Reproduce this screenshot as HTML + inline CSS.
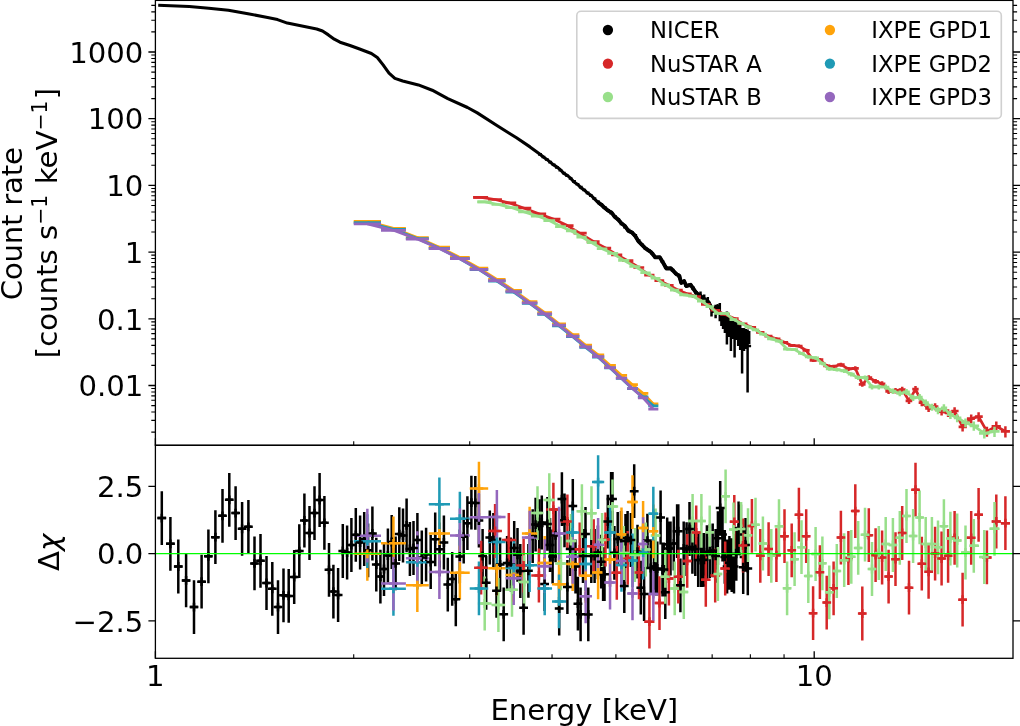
<!DOCTYPE html>
<html lang="en"><head><meta charset="utf-8"><title>Spectrum and residuals</title>
<style>html,body{margin:0;padding:0;background:#fff}svg{display:block;will-change:transform}</style></head>
<body>
<svg width="1020" height="726" viewBox="0 0 1020 726">
<rect width="1020" height="726" fill="#fff"/>
<g id="top-data">
<polyline fill="none" stroke="#000000" stroke-width="3.1" stroke-linejoin="round"  points="158.2,5.3 189.2,6.5 208.8,8.2 228.4,10.2 248,13.7 267.6,17.6 277.5,19.6 287.3,23.1 306.9,27.1 316.7,29 322.5,31 328.4,34.9 334.3,39.2 340,42.2 350,45.5 359.6,49 371.4,53.5 377.3,57.5 383.1,64.9 389,73.1 394.9,78.4 402.7,81 418.4,84.9 432.2,90.2 447.8,98.6 467.5,107.5 477.3,112.9 496.9,125.5 516.5,137.8 530,146.9 540,154.22 543.4,156.98 546.8,159.39 550.2,162.17 553.6,164.92 557,167.09 560.4,169.73 563.8,173.36 567.2,175.41 570.6,178.15 574,182.02 577.4,184.2 580.8,187.61 584.2,189.97 587.6,193.1 591,195.21 594.4,198.9 597.8,202.21 601.2,204.51 604.6,207.81 608,210.59 611.4,212.43 614.8,216.88 618.2,219.59 621.6,223.42 625,226.06 628.4,230.91 631.8,232.37 635.2,235.91 638.6,241.57 640,242.8 645.5,248.3 651,252.1 655.4,257.4 659.8,257.3 663.7,263.7 666.4,268.5 670.9,268.3 676.4,274.2 679.1,275.5 681.3,283 684.1,281 686.3,286 690.7,284.8 694,289.6 696.2,292.9 700.6,296.2 705,299.5 708.9,302.8 712.7,311 715.6,308 717.6,306.1 719.8,313.5 723.1,319.5 726.7,323.5 730.5,331 734.3,333.5 737.9,333 742.1,341 747.4,346"/>
<polyline fill="none" stroke="#000000" stroke-width="3.9" stroke-linejoin="round"  points="597.8,202.21 601.2,204.51 604.6,207.81 608,210.59 611.4,212.43 614.8,216.88 618.2,219.59 621.6,223.42 625,226.06 628.4,230.91 631.8,232.37 635.2,235.91 638.6,241.57 640,242.8 645.5,248.3 651,252.1 655.4,257.4 659.8,257.3 663.7,263.7 666.4,268.5 670.9,268.3 676.4,274.2 679.1,275.5 681.3,283 684.1,281 686.3,286 690.7,284.8 694,289.6 696.2,292.9 700.6,296.2 705,299.5 708.9,302.8 712.7,311 715.6,308 717.6,306.1 719.8,313.5"/>
<path fill="none" stroke="#000000" stroke-width="2.5"  d="M700.5 291.5L700.5 297M704.2 294.5L704.2 301.5M707.8 297L707.8 306M711.5 306.4L711.5 316.4M715.6 304.8L715.6 318.3M719.8 303.1L719.8 321.3M721.4 313L721.4 326M723.1 313L723.1 329M724.9 314.5L724.9 333M726.9 311.4L726.9 344.4M728.9 317L728.9 337M730.9 319.7L730.9 351.1M732.7 320L732.7 339M734.6 321.3L734.6 357.5M736.4 322L736.4 340M738.2 323.5L738.2 346M740.2 325L740.2 350M742.1 328L742.1 373.4M744 328L744 351M745.8 329L745.8 349M747.6 329.6L747.6 392.4M749.2 331L749.2 344"/>
<path fill="none" stroke="#000000" stroke-width="2.5"  d="M698.6 296.12L702.4 296.12M702.3 298.9L706.1 298.9M705.9 301.87L709.7 301.87M709.6 308.41L713.4 308.41M713.7 308L717.5 308M717.9 313.5L721.7 313.5M719.5 316.41L723.3 316.41M721.2 319.5L725 319.5M723 321.5L726.8 321.5M725 323.89L728.8 323.89M727 327.84L730.8 327.84M729 331.26L732.8 331.26M730.8 332.45L734.6 332.45M732.7 333.46L736.5 333.46M734.5 333.21L738.3 333.21M736.3 333.57L740.1 333.57M738.3 337.38L742.1 337.38M740.2 341L744 341M742.1 342.79L745.9 342.79M743.9 344.49L747.7 344.49M745.7 346L749.5 346M747.3 346L751.1 346"/>
<path fill="none" stroke="#000000" stroke-width="2.6"  d="M538.1 154.4L541.9 154.4M541.5 156.95L545.3 156.95M544.9 159.5L548.7 159.5M548.3 162.08L552.1 162.08M551.7 164.8L555.5 164.8M555.1 167.53L558.9 167.53M558.5 170.25L562.3 170.25M561.9 172.97L565.7 172.97M565.3 175.7L569.1 175.7M568.7 178.49L572.5 178.49M572.1 181.37L575.9 181.37M575.5 184.24L579.3 184.24M578.9 187.12L582.7 187.12M582.3 190L586.1 190M585.7 192.88L589.5 192.88M589.1 195.77L592.9 195.77M592.5 198.67L596.3 198.67M595.9 201.57L599.7 201.57M599.3 204.47L603.1 204.47M602.7 207.36L606.5 207.36M606.1 210.26L609.9 210.26M609.5 213.29L613.3 213.29M612.9 216.35L616.7 216.35M616.3 219.4L620.1 219.4M619.7 223.85L623.5 223.85M623.1 227.11L626.9 227.11M626.5 230.08L630.3 230.08M629.9 232.43L633.7 232.43M633.3 235.38L637.1 235.38M636.7 240.64L640.5 240.64M640.1 244.8L643.9 244.8M643.5 248.2L647.3 248.2M646.9 250.58L650.7 250.58M650.3 253.55L654.1 253.55M652.2 253.1L652.2 254M653.7 257.4L657.5 257.4M655.6 256.9L655.6 257.9M657.1 257.32L660.9 257.32M659 256.75L659 257.89M660.5 261.57L664.3 261.57M662.4 260.93L662.4 262.22M663.9 267.43L667.7 267.43M665.8 266.72L665.8 268.17M667.3 268.38L671.1 268.38M669.2 267.57L669.2 269.21M670.7 270.12L674.5 270.12M672.6 269.21L672.6 271.06M674.1 273.77L677.9 273.77M676 272.74L676 274.84M677.5 276.52L681.3 276.52M679.4 275.37L679.4 277.73M680.9 281.93L684.7 281.93M682.8 280.63L682.8 283.29M684.3 285.77L688.1 285.77M686.2 284.31L686.2 287.32M687.7 285.1L691.5 285.1M689.6 283.45L689.6 286.85M691.1 288.15L694.9 288.15M693 286.29L693 290.13M694.5 293.05L698.3 293.05M696.4 290.96L696.4 295.3M697.9 295.6L701.7 295.6M699.8 293.25L699.8 298.15"/>
<polyline fill="none" stroke="#d62728" stroke-width="2.75" stroke-linejoin="round"  points="473.2,197.41 481.1,197.41 495.1,199.5 508.8,202.81 523.6,208.01 538.9,213.84 553.4,219.09 567.4,225.57 579.7,233.16 593.7,241.59 605.5,248.04 616.8,254.78 627.7,260.72 639,267.51 649.4,275.05 659.5,280.64 668.9,285.33 678.3,290.22 687.2,293.81 696.2,296.51 705.8,304.34 715.2,310.27 725.2,314.41 734.3,318.51 743,323.81 751.9,327.28 760.3,332.44 768.6,336.2 776.4,338.9 784.5,342.3 791.7,345.4 798.9,346 806.2,350.4 813.1,360.3 819.9,359.7 826.7,365.8 833.6,366.5 840.9,364.6 848.4,368.9 855.3,368.3 862.3,384.4 868.8,377.6 875.6,381.3 882.1,383.8 888.6,391.3 895.5,390.6 902.2,389.6 909,400.8 915.5,389.1 921.8,402.7 928.6,408.4 935.1,406.5 941.6,411.6 948.1,412.9 954.6,411 962.6,426.9 971.2,418.6 978.6,416.7 986.9,431.4 996.3,426.3 1005.4,431.4"/>
<path fill="none" stroke="#d62728" stroke-width="2.7"  d="M473.2 197.41L488.1 197.41M488.1 199.5L501.95 199.5M501.95 202.81L516.2 202.81M516.2 208.01L531.25 208.01M531.25 213.84L546.15 213.84M546.15 219.09L560.4 219.09M560.4 225.57L573.55 225.57M573.55 233.16L586.7 233.16M586.7 241.59L599.6 241.59M599.6 248.04L611.15 248.04M611.15 254.78L622.25 254.78M622.25 260.72L633.35 260.72M633.35 267.51L644.2 267.51M644.2 275.05L654.45 275.05M654.45 280.64L664.2 280.64M664.2 285.33L673.6 285.33M673.6 290.22L682.75 290.22M682.75 293.81L691.7 293.81M691.7 296.51L701 296.51M701 304.34L710.5 304.34M710.5 310.27L720.2 310.27M720.2 314.41L729.75 314.41M729.75 318.51L738.65 318.51M738.65 323.81L747.45 323.81M747.45 327.28L756.1 327.28M756.1 332.44L764.45 332.44M764.45 336.2L772.5 336.2M772.5 338.9L780.45 338.9M780.45 342.3L788.1 342.3M788.1 345.4L795.3 345.4M795.3 346L802.55 346M802.55 350.4L809.65 350.4M809.65 360.3L816.5 360.3M816.5 359.7L823.3 359.7M823.3 365.8L830.15 365.8M830.15 366.5L837.25 366.5M837.25 364.6L844.65 364.6M844.65 368.9L851.85 368.9M851.85 368.3L858.8 368.3M858.8 384.4L865.55 384.4M865.55 377.6L872.2 377.6M872.2 381.3L878.85 381.3M878.85 383.8L885.35 383.8M885.35 391.3L892.05 391.3M892.05 390.6L898.85 390.6M898.85 389.6L905.6 389.6M905.6 400.8L912.25 400.8M912.25 389.1L918.65 389.1M918.65 402.7L925.2 402.7M925.2 408.4L931.85 408.4M931.85 406.5L938.35 406.5M938.35 411.6L944.85 411.6M944.85 412.9L951.35 412.9M951.35 411L958.6 411M958.6 426.9L966.9 426.9M966.9 418.6L974.9 418.6M974.9 416.7L982.75 416.7M982.75 431.4L991.6 431.4M991.6 426.3L1000.85 426.3M1000.85 431.4L1009.95 431.4"/>
<path fill="none" stroke="#d62728" stroke-width="2.5"  d="M715.2 309.38L715.2 311.19M725.2 313.46L725.2 315.39M734.3 317.51L734.3 319.55M743 322.75L743 324.9M751.9 326.17L751.9 328.44M760.3 331.27L760.3 333.67M768.6 334.96L768.6 337.49M776.4 337.6L776.4 340.26M784.5 340.94L784.5 343.73M791.7 343.98L791.7 346.9M798.9 344.51L798.9 347.57M806.2 348.85L806.2 352.04M813.1 358.68L813.1 362.02M819.9 358.01L819.9 361.49M826.7 364.04L826.7 367.67M833.6 364.67L833.6 368.46M840.9 362.68L840.9 366.65M848.4 366.89L848.4 371.06M855.3 366.21L855.3 370.55M862.3 382.22L862.3 386.76M868.8 375.33L868.8 380.06M875.6 378.94L875.6 383.87M882.1 381.34L882.1 386.49M888.6 388.75L888.6 394.1M895.5 387.94L895.5 393.53M902.2 386.83L902.2 392.66M909 397.91L909 404.01M915.5 386.1L915.5 392.45M921.8 399.59L921.8 406.19M928.6 405.16L928.6 412.05M935.1 403.13L935.1 410.31M941.6 408.1L941.6 415.58M948.1 409.26L948.1 417.06M954.6 407.22L954.6 415.34M962.6 422.94L962.6 431.49M971.2 414.44L971.2 423.46M978.6 412.36L978.6 421.81M986.9 426.84L986.9 436.81M996.3 421.49L996.3 432.08M1005.4 426.33L1005.4 437.55"/>
<polyline fill="none" stroke="#98df8a" stroke-width="2.75" stroke-linejoin="round"  points="477.4,201.9 484.7,201.9 498.4,204.48 512,207.72 524.3,211.97 537.5,216.08 549.3,220.53 560.9,226.53 571,230.79 581.9,237.05 591.5,242.56 602.1,248.73 612.5,253.34 623.8,260.35 634.9,266.48 645.8,272.76 655.6,278.23 665.3,284.8 674.7,290.22 683.8,294.93 692.6,296.08 701.4,301.07 709.7,306.72 717.9,313.28 725.6,313.25 733.5,319.56 741.1,323.29 748,326.88 755.5,329.83 762.9,334.11 771.3,338.91 779,341.1 787.1,349.1 794.6,349.6 801.5,353.5 808.3,356.9 815.6,357.9 822.4,363.5 829.3,368.9 836.8,369.6 844.2,370.8 851.3,374.2 858.2,377.7 865,377.6 872,386.9 878.8,386.9 885.7,387 892.9,391.2 899.8,393.3 906.5,391.9 913.1,397.8 919.6,397.1 925.7,402.7 931.9,407.1 938,410.3 943.9,407.8 950.4,414.7 957.2,417.8 965.5,422.6 973.8,425.8 984.3,433.3 994.5,431.4"/>
<path fill="none" stroke="#98df8a" stroke-width="2.7"  d="M477.4 201.9L491.55 201.9M491.55 204.48L505.2 204.48M505.2 207.72L518.15 207.72M518.15 211.97L530.9 211.97M530.9 216.08L543.4 216.08M543.4 220.53L555.1 220.53M555.1 226.53L565.95 226.53M565.95 230.79L576.45 230.79M576.45 237.05L586.7 237.05M586.7 242.56L596.8 242.56M596.8 248.73L607.3 248.73M607.3 253.34L618.15 253.34M618.15 260.35L629.35 260.35M629.35 266.48L640.35 266.48M640.35 272.76L650.7 272.76M650.7 278.23L660.45 278.23M660.45 284.8L670 284.8M670 290.22L679.25 290.22M679.25 294.93L688.2 294.93M688.2 296.08L697 296.08M697 301.07L705.55 301.07M705.55 306.72L713.8 306.72M713.8 313.28L721.75 313.28M721.75 313.25L729.55 313.25M729.55 319.56L737.3 319.56M737.3 323.29L744.55 323.29M744.55 326.88L751.75 326.88M751.75 329.83L759.2 329.83M759.2 334.11L767.1 334.11M767.1 338.91L775.15 338.91M775.15 341.1L783.05 341.1M783.05 349.1L790.85 349.1M790.85 349.6L798.05 349.6M798.05 353.5L804.9 353.5M804.9 356.9L811.95 356.9M811.95 357.9L819 357.9M819 363.5L825.85 363.5M825.85 368.9L833.05 368.9M833.05 369.6L840.5 369.6M840.5 370.8L847.75 370.8M847.75 374.2L854.75 374.2M854.75 377.7L861.6 377.7M861.6 377.6L868.5 377.6M868.5 386.9L875.4 386.9M875.4 386.9L882.25 386.9M882.25 387L889.3 387M889.3 391.2L896.35 391.2M896.35 393.3L903.15 393.3M903.15 391.9L909.8 391.9M909.8 397.8L916.35 397.8M916.35 397.1L922.65 397.1M922.65 402.7L928.8 402.7M928.8 407.1L934.95 407.1M934.95 410.3L940.95 410.3M940.95 407.8L947.15 407.8M947.15 414.7L953.8 414.7M953.8 417.8L961.35 417.8M961.35 422.6L969.65 422.6M969.65 425.8L979.05 425.8M979.05 433.3L989.4 433.3M989.4 431.4L999.6 431.4"/>
<path fill="none" stroke="#98df8a" stroke-width="2.5"  d="M709.7 305.86L709.7 307.6M717.9 312.37L717.9 314.21M725.6 312.31L725.6 314.24M733.5 318.56L733.5 320.59M741.1 322.25L741.1 324.37M748 325.79L748 328.01M755.5 328.69L755.5 331.02M762.9 332.92L762.9 335.35M771.3 337.65L771.3 340.22M779 339.78L779 342.48M787.1 347.72L787.1 350.55M794.6 348.15L794.6 351.12M801.5 351.99L801.5 355.09M808.3 355.33L808.3 358.56M815.6 356.26L815.6 359.64M822.4 361.79L822.4 365.32M829.3 367.11L829.3 370.81M836.8 367.73L836.8 371.6M844.2 368.84L844.2 372.9M851.3 372.16L851.3 376.4M858.2 375.57L858.2 380M865 375.38L865 380M872 384.59L872 389.41M878.8 384.49L878.8 389.53M885.7 384.49L885.7 389.75M892.9 388.58L892.9 394.08M899.8 390.57L899.8 396.32M906.5 389.06L906.5 395.05M913.1 394.84L913.1 401.09M919.6 394.03L919.6 400.54M925.7 399.51L925.7 406.28M931.9 403.79L931.9 410.83M938 406.87L938 414.19M943.9 404.25L943.9 411.84M950.4 411.01L950.4 418.92M957.2 413.96L957.2 422.22M965.5 418.57L965.5 427.28M973.8 421.57L973.8 430.75M984.3 428.81L984.3 438.62M994.5 426.64L994.5 437.1"/>
<polyline fill="none" stroke="#ffa30a" stroke-width="2.75" stroke-linejoin="round"  points="367.35,221.4 393.44,228.3 417.33,237.5 439.39,247.2 459.86,257.4 478.96,268.2 496.87,279.4 513.72,290.3 529.63,301.7 544.7,312.6 559.02,323.9 572.65,334.7 585.67,345.2 598.11,354.9 610.04,365.4 621.49,375.4 632.5,384.7 643.1,393.3 653.33,403.9"/>
<path fill="none" stroke="#ffa30a" stroke-width="2.7"  d="M353.72 221.4L380.99 221.4M380.99 228.3L405.88 228.3M405.88 237.5L428.78 237.5M428.78 247.2L449.99 247.2M449.99 257.4L469.73 257.4M469.73 268.2L488.19 268.2M488.19 279.4L505.54 279.4M505.54 290.3L521.89 290.3M521.89 301.7L537.36 301.7M537.36 312.6L552.04 312.6M552.04 323.9L566 323.9M566 334.7L579.31 334.7M579.31 345.2L592.02 345.2M592.02 354.9L604.2 354.9M604.2 365.4L615.88 365.4M615.88 375.4L627.1 375.4M627.1 384.7L637.9 384.7M637.9 393.3L648.31 393.3M648.31 403.9L658.35 403.9"/>
<polyline fill="none" stroke="#1f9ab5" stroke-width="2.75" stroke-linejoin="round"  points="367.35,222.6 393.44,229.4 417.33,238.5 439.39,248.3 459.86,258.7 478.96,269.7 496.87,281.1 513.72,292.1 529.63,303.5 544.7,314.4 559.02,325.8 572.65,336.7 585.67,347.4 598.11,357.2 610.04,368 621.49,378.5 632.5,388.7 643.1,396.9 653.33,405.8"/>
<path fill="none" stroke="#1f9ab5" stroke-width="2.7"  d="M353.72 222.6L380.99 222.6M380.99 229.4L405.88 229.4M405.88 238.5L428.78 238.5M428.78 248.3L449.99 248.3M449.99 258.7L469.73 258.7M469.73 269.7L488.19 269.7M488.19 281.1L505.54 281.1M505.54 292.1L521.89 292.1M521.89 303.5L537.36 303.5M537.36 314.4L552.04 314.4M552.04 325.8L566 325.8M566 336.7L579.31 336.7M579.31 347.4L592.02 347.4M592.02 357.2L604.2 357.2M604.2 368L615.88 368M615.88 378.5L627.1 378.5M627.1 388.7L637.9 388.7M637.9 396.9L648.31 396.9M648.31 405.8L658.35 405.8"/>
<polyline fill="none" stroke="#9467bd" stroke-width="2.75" stroke-linejoin="round"  points="367.35,223.8 393.44,230.3 417.33,239.1 439.39,248.6 459.86,258.7 478.96,269.4 496.87,280.6 513.72,291.5 529.63,302.9 544.7,313.8 559.02,325.2 572.65,336.1 585.67,346.8 598.11,356.7 610.04,367.6 621.49,378.2 632.5,388.5 643.1,397.9 653.33,409.2"/>
<path fill="none" stroke="#9467bd" stroke-width="2.7"  d="M353.72 223.8L380.99 223.8M380.99 230.3L405.88 230.3M405.88 239.1L428.78 239.1M428.78 248.6L449.99 248.6M449.99 258.7L469.73 258.7M469.73 269.4L488.19 269.4M488.19 280.6L505.54 280.6M505.54 291.5L521.89 291.5M521.89 302.9L537.36 302.9M537.36 313.8L552.04 313.8M552.04 325.2L566 325.2M566 336.1L579.31 336.1M579.31 346.8L592.02 346.8M592.02 356.7L604.2 356.7M604.2 367.6L615.88 367.6M615.88 378.2L627.1 378.2M627.1 388.5L637.9 388.5M637.9 397.9L648.31 397.9M648.31 409.2L658.35 409.2"/>
</g>
<g id="res-data">
<path fill="none" stroke="#000000" stroke-width="2.5"  d="M161.8 491.2L161.8 545M170.4 516.9L170.4 570.7M178.3 539.6L178.3 593.4M186.1 553.5L186.1 607.3M194 580.2L194 634M201.6 554.8L201.6 608.6M208.4 529.4L208.4 583.2M215.4 510.3L215.4 564.1M222.5 488.9L222.5 542.7M229.3 472.9L229.3 526.7M235.6 486.2L235.6 540M242.1 501.9L242.1 555.7M248.4 499.9L248.4 553.7M254.5 536.5L254.5 590.3M260.5 533.9L260.5 587.7M266.5 556.1L266.5 609.9M272.3 561.9L272.3 615.7M278 580.2L278 634M283.5 568.4L283.5 622.2M288.7 569L288.7 622.8M294.2 550.1L294.2 603.9M299.3 524.2L299.3 578M304.4 493.6L304.4 547.4M309.5 506.1L309.5 559.9M314.5 486.2L314.5 540M319.6 473.1L319.6 526.9M324.4 495.9L324.4 549.7M329 542.9L329 596.7M333.4 564.7L333.4 618.5M338.1 568.1L338.1 621.9M342.8 524.1L342.8 577.9M347.1 525.6L347.1 579.4M351.4 518.1L351.4 571.9M355.8 507.9L355.8 561.7M360.1 515.6L360.1 569.4M364.2 512.1L364.2 565.9M368.1 523.4L368.1 577.2M372.4 506.6L372.4 560.4M376.3 537.7L376.3 591.5M380.4 549.7L380.4 603.5M384 542.1L384 595.9M387.9 528.6L387.9 582.4M391.7 515.1L391.7 568.9M395.6 536.5L395.6 590.3M399.3 507.2L399.3 561M403 508.6L403 562.4M406.6 498.5L406.6 552.3M409.9 522.1L409.9 575.9M413.5 521.1L413.5 574.9M417.4 513L417.4 566.8M421.8 530.6L421.8 584.4M426.1 527.7L426.1 581.5M430.7 535.1L430.7 588.9M435.2 512.4L435.2 566.2M439.6 522.4L439.6 576.2M443.9 515.6L443.9 569.4M447.8 557.7L447.8 611.5M452.2 552L452.2 605.8M455.8 572.4L455.8 626.2M459.8 529.6L459.8 583.4M463.7 509.8L463.7 563.6M467.4 496.3L467.4 550.1M471.4 475.8L471.4 529.6M475.3 476L475.3 529.8M478.9 493.6L478.9 547.4M482.6 529.1L482.6 582.9M486.2 555.9L486.2 609.7M489.8 510.6L489.8 564.4M493.4 513.1L493.4 566.9M496.5 563.9L496.5 617.7M500.1 537.6L500.1 591.4M503.7 587.4L503.7 641.2M507.1 536.1L507.1 589.9M510.8 537.6L510.8 591.4M514.2 521.1L514.2 574.9M517.5 527.9L517.5 581.7M520.3 544.1L520.3 597.9M523.6 580.9L523.6 634.7M528.4 543.9L528.4 597.7M532.7 509.3L532.7 563.1M535.6 497.7L535.6 551.5M539.2 499.2L539.2 553M541.8 495.6L541.8 549.4M544.6 557.1L544.6 610.9M547.4 497L547.4 550.8M550 518.1L550 571.9M552.6 529.6L552.6 583.4M555.5 508.5L555.5 562.3M559.2 581.6L559.2 635.4M561.9 472.2L561.9 526M564.5 493.4L564.5 547.2M567.4 560.1L567.4 613.9M570.2 522.2L570.2 576M572.8 479.1L572.8 532.9M575.5 539.6L575.5 593.4M577.9 576.8L577.9 630.6M580.6 587.4L580.6 641.2M583 529.1L583 582.9M585.5 507L585.5 560.8M588.3 587.5L588.3 641.3M591.3 529.1L591.3 582.9M594.6 529.1L594.6 582.9M597.9 525.53L597.9 579.33M601.2 534.74L601.2 588.54M603.1 547.3L603.1 601.1M604.5 547.3L604.5 601.1M607.8 494.7L607.8 548.5M611.1 472L611.1 525.8M612.5 472L612.5 525.8M614.4 525.89L614.4 579.69M617.7 512.1L617.7 565.9M621 511.1L621 564.9M624.3 559.2L624.3 613M625.5 514.1L625.5 567.9M627.6 511.1L627.6 564.9M630.9 513.1L630.9 566.9M634.2 464.3L634.2 518.1M637.5 524.82L637.5 578.62M640.8 560.8L640.8 614.6M644.1 567.1L644.1 620.9M647.4 513.7L647.4 567.5M650.7 541.1L650.7 594.9M654 539.6L654 593.4M656 541.6L656 595.4M657.3 541.6L657.3 595.4M660.6 490.6L660.6 544.4M662.5 542.6L662.5 596.4M663.9 542.6L663.9 596.4M665.3 565.3L665.3 619.1M667.2 517.44L667.2 571.24M668.9 521.6L668.9 575.4M670.5 521.6L670.5 575.4M673.8 516.6L673.8 570.4M677.1 504.3L677.1 558.1M678.3 504.3L678.3 558.1M680.4 558.4L680.4 612.2M683.7 521.6L683.7 575.4M686.6 522.31L686.6 576.11M689.5 502.1L689.5 555.9M692.4 520.06L692.4 573.86M695.3 522.1L695.3 575.9M698.2 533.1L698.2 586.9M701.1 533.1L701.1 586.9M702.4 533.1L702.4 586.9M704 532.91L704 586.71M706.9 525.27L706.9 579.07M709.8 524.25L709.8 578.05M712.7 523.55L712.7 577.35M715.6 528.98L715.6 582.78M717.9 511.23L717.9 565.03M720.2 481.1L720.2 534.9M722.5 507.72L722.5 561.52M724.8 529.98L724.8 583.78M727.1 539.6L727.1 593.4M729.4 535.96L729.4 589.76M731.7 538.2L731.7 592M734 539.6L734 593.4M736.3 526.84L736.3 580.64M738.6 501.4L738.6 555.2M740.9 504.49L740.9 558.29M743.2 540.3L743.2 594.1M745.5 518L745.5 571.8M747.8 541.5L747.8 595.3M157.52 518.1L166.08 518.1M166.23 543.8L174.57 543.8M174.24 566.5L182.36 566.5M182.14 580.4L190.06 580.4M190.14 607.1L197.86 607.1M197.83 581.7L205.37 581.7M204.72 556.3L212.08 556.3M211.81 537.2L218.99 537.2M219 515.8L226 515.8M225.89 499.8L232.71 499.8M232.27 513.1L238.93 513.1M238.86 528.8L245.34 528.8M245.24 526.8L251.56 526.8M251.41 563.4L257.58 563.4M257.49 560.8L263.51 560.8M263.57 583L269.43 583M269.44 588.8L275.16 588.8M275.22 607.1L280.78 607.1M280.79 595.3L286.21 595.3M286.05 595.9L291.35 595.9M291.63 577L296.77 577M296.79 551.1L301.81 551.1M301.92 520.5L306.88 520.5M307.05 533L311.95 533M312.07 513.1L316.93 513.1M317.2 500L322 500M322.02 522.8L326.78 522.8M326.64 569.8L331.36 569.8M331.07 591.6L335.73 591.6M335.79 595L340.41 595M340.51 551L345.09 551M344.84 552.5L349.36 552.5M349.16 545L353.64 545M353.58 534.8L358.02 534.8M357.9 542.5L362.3 542.5M362.02 539L366.38 539M365.94 550.3L370.26 550.3M370.26 533.5L374.54 533.5M374.18 564.6L378.42 564.6M378.3 576.6L382.5 576.6M381.92 569L386.08 569M385.84 555.5L389.96 555.5M389.66 542L393.74 542M393.58 563.4L397.62 563.4M397.3 534.1L401.3 534.1M401.2 535.5L404.8 535.5M404.8 525.4L408.4 525.4M408.1 549L411.7 549M411.7 548L415.3 548M415.6 539.9L419.2 539.9M420 557.5L423.6 557.5M424.3 554.6L427.9 554.6M428.9 562L432.5 562M433.4 539.3L437 539.3M437.8 549.3L441.4 549.3M442.1 542.5L445.7 542.5M446 584.6L449.6 584.6M450.4 578.9L454 578.9M454 599.3L457.6 599.3M458 556.5L461.6 556.5M461.9 536.7L465.5 536.7M465.6 523.2L469.2 523.2M469.6 502.7L473.2 502.7M473.5 502.9L477.1 502.9M477.1 520.5L480.7 520.5M480.8 556L484.4 556M484.4 582.8L488 582.8M488 537.5L491.6 537.5M491.6 540L495.2 540M494.7 590.8L498.3 590.8M498.3 564.5L501.9 564.5M501.9 614.3L505.5 614.3M505.3 563L508.9 563M509 564.5L512.6 564.5M512.4 548L516 548M515.7 554.8L519.3 554.8M518.5 571L522.1 571M521.8 607.8L525.4 607.8M526.6 570.8L530.2 570.8M530.9 536.2L534.5 536.2M533.8 524.6L537.4 524.6M537.4 526.1L541 526.1M540 522.5L543.6 522.5M542.8 584L546.4 584M545.6 523.9L549.2 523.9M548.2 545L551.8 545M550.8 556.5L554.4 556.5M553.7 535.4L557.3 535.4M557.4 608.5L561 608.5M560.1 499.1L563.7 499.1M562.7 520.3L566.3 520.3M565.6 587L569.2 587M568.4 549.1L572 549.1M571 506L574.6 506M573.7 566.5L577.3 566.5M576.1 603.7L579.7 603.7M578.8 614.3L582.4 614.3M581.2 556L584.8 556M583.7 533.9L587.3 533.9M586.5 614.4L590.1 614.4M589.5 556L593.1 556M592.8 556L596.4 556M596.1 552.43L599.7 552.43M599.4 561.64L603 561.64M601.3 574.2L604.9 574.2M602.7 574.2L606.3 574.2M606 521.6L609.6 521.6M609.3 498.9L612.9 498.9M610.7 498.9L614.3 498.9M612.6 552.79L616.2 552.79M615.9 539L619.5 539M619.2 538L622.8 538M622.5 586.1L626.1 586.1M623.7 541L627.3 541M625.8 538L629.4 538M629.1 540L632.7 540M632.4 491.2L636 491.2M635.7 551.72L639.3 551.72M639 587.7L642.6 587.7M642.3 594L645.9 594M645.6 540.6L649.2 540.6M648.9 568L652.5 568M652.2 566.5L655.8 566.5M654.2 568.5L657.8 568.5M655.5 568.5L659.1 568.5M658.8 517.5L662.4 517.5M660.7 569.5L664.3 569.5M662.1 569.5L665.7 569.5M663.5 592.2L667.1 592.2M665.4 544.34L669 544.34M667.1 548.5L670.7 548.5M668.7 548.5L672.3 548.5M672 543.5L675.6 543.5M675.3 531.2L678.9 531.2M676.5 531.2L680.1 531.2M678.6 585.3L682.2 585.3M681.9 548.5L685.5 548.5M684.8 549.21L688.4 549.21M687.7 529L691.3 529M690.6 546.96L694.2 546.96M693.5 549L697.1 549M696.4 560L700 560M699.3 560L702.9 560M700.6 560L704.2 560M702.2 559.81L705.8 559.81M705.1 552.17L708.7 552.17M708 551.15L711.6 551.15M710.9 550.45L714.5 550.45M713.8 555.88L717.4 555.88M716.1 538.13L719.7 538.13M718.4 508L722 508M720.7 534.62L724.3 534.62M723 556.88L726.6 556.88M725.3 566.5L728.9 566.5M727.6 562.86L731.2 562.86M729.9 565.1L733.5 565.1M732.2 566.5L735.8 566.5M734.5 553.74L738.1 553.74M736.8 528.3L740.4 528.3M739.1 531.39L742.7 531.39M741.4 567.2L745 567.2M743.7 544.9L747.3 544.9M746 568.4L749.6 568.4"/>
<path fill="none" stroke="#d62728" stroke-width="2.5"  d="M481.1 540.8L481.1 594.6M495.1 504.1L495.1 557.9M508.8 513L508.8 566.8M523.6 538.6L523.6 592.4M538.9 548.6L538.9 602.4M553.4 482.7L553.4 536.5M567.4 494.6L567.4 548.4M579.7 522.4L579.7 576.2M593.7 519.3L593.7 573.1M605.5 512.6L605.5 566.4M616.8 545.9L616.8 599.7M627.7 531L627.7 584.8M639 545.5L639 599.3M649.4 594.8L649.4 648.6M659.5 576.2L659.5 630M668.9 551.6L668.9 605.4M678.3 549.8L678.3 603.6M687.2 534L687.2 587.8M696.2 505.6L696.2 559.4M705.8 552.9L705.8 606.7M715.2 548.7L715.2 602.5M725.2 541.6L725.2 595.4M734.3 494.9L734.3 548.7M743 518.6L743 572.4M751.9 499L751.9 552.8M760.3 528.9L760.3 582.7M768.6 522.2L768.6 576M776.4 528.3L776.4 582.1M784.5 509.3L784.5 563.1M791.7 523.4L791.7 577.2M798.9 487.8L798.9 541.6M806.2 509.3L806.2 563.1M813.1 586.3L813.1 640.1M819.9 545.3L819.9 599.1M826.7 575.7L826.7 629.5M833.6 561.4L833.6 615.2M840.9 510.7L840.9 564.5M848.4 531.1L848.4 584.9M855.3 484.2L855.3 538M862.3 586.6L862.3 640.4M868.8 508.3L868.8 562.1M875.6 528.3L875.6 582.1M882.1 530.6L882.1 584.4M888.6 549.7L888.6 603.5M895.5 532.3L895.5 586.1M902.2 506.1L902.2 559.9M909 560.8L909 614.6M915.5 462.8L915.5 516.6M921.8 536.8L921.8 590.6M928.6 544.9L928.6 598.7M935.1 526.7L935.1 580.5M941.6 531.6L941.6 585.4M948.1 528.9L948.1 582.7M954.6 510.9L954.6 564.7M962.6 572.8L962.6 626.6M971.2 510.9L971.2 564.7M978.6 487.9L978.6 541.7M986.9 530.5L986.9 584.3M996.3 494.6L996.3 548.4M1005.4 496.3L1005.4 550.1M474.1 567.7L488.1 567.7M488.1 531L501.95 531M501.95 539.9L516.2 539.9M516.2 565.5L531.25 565.5M531.25 575.5L546.15 575.5M546.15 509.6L560.4 509.6M560.4 521.5L573.55 521.5M573.55 549.3L586.7 549.3M586.7 546.2L599.6 546.2M599.6 539.5L611.15 539.5M611.15 572.8L622.25 572.8M622.25 557.9L633.35 557.9M633.35 572.4L644.2 572.4M644.2 621.7L654.45 621.7M654.45 603.1L664.2 603.1M664.2 578.5L673.6 578.5M673.6 576.7L682.75 576.7M682.75 560.9L691.7 560.9M691.7 532.5L701 532.5M701 579.8L710.5 579.8M710.5 575.6L720.2 575.6M720.2 568.5L729.75 568.5M729.75 521.8L738.65 521.8M738.65 545.5L747.45 545.5M747.45 525.9L756.1 525.9M756.1 555.8L764.45 555.8M764.45 549.1L772.5 549.1M772.5 555.2L780.45 555.2M780.45 536.2L788.1 536.2M788.1 550.3L795.3 550.3M795.3 514.7L802.55 514.7M802.55 536.2L809.65 536.2M809.65 613.2L816.5 613.2M816.5 572.2L823.3 572.2M823.3 602.6L830.15 602.6M830.15 588.3L837.25 588.3M837.25 537.6L844.65 537.6M844.65 558L851.85 558M851.85 511.1L858.8 511.1M858.8 613.5L865.55 613.5M865.55 535.2L872.2 535.2M872.2 555.2L878.85 555.2M878.85 557.5L885.35 557.5M885.35 576.6L892.05 576.6M892.05 559.2L898.85 559.2M898.85 533L905.6 533M905.6 587.7L912.25 587.7M912.25 489.7L918.65 489.7M918.65 563.7L925.2 563.7M925.2 571.8L931.85 571.8M931.85 553.6L938.35 553.6M938.35 558.5L944.85 558.5M944.85 555.8L951.35 555.8M951.35 537.8L958.6 537.8M958.6 599.7L966.9 599.7M966.9 537.8L974.9 537.8M974.9 514.8L982.75 514.8M982.75 557.4L991.6 557.4M991.6 521.5L1000.85 521.5M1000.85 523.2L1009.95 523.2"/>
<path fill="none" stroke="#98df8a" stroke-width="2.5"  d="M484.7 576.6L484.7 630.4M498.4 578.1L498.4 631.9M512 562.9L512 616.7M524.3 555.2L524.3 609M537.5 486.2L537.5 540M549.3 473.2L549.3 527M560.9 536.5L560.9 590.3M571 514.1L571 567.9M581.9 484.3L581.9 538.1M591.5 486.3L591.5 540.1M602.1 513.1L602.1 566.9M612.5 479.5L612.5 533.3M623.8 526.1L623.8 579.9M634.9 528.1L634.9 581.9M645.8 522.6L645.8 576.4M655.6 508.5L655.6 562.3M665.3 549.9L665.3 603.7M674.7 561.5L674.7 615.3M683.8 565.1L683.8 618.9M692.6 494L692.6 547.8M701.4 494L701.4 547.8M709.7 505.4L709.7 559.2M717.9 547.1L717.9 600.9M725.6 469.4L725.6 523.2M733.5 502.6L733.5 556.4M741.1 502L741.1 555.8M748 508.3L748 562.1M755.5 497.8L755.5 551.6M762.9 516.6L762.9 570.4M771.3 528.9L771.3 582.7M779 499.3L779 553.1M787.1 561.4L787.1 615.2M794.6 532.3L794.6 586.1M801.5 520.3L801.5 574.1M808.3 549.1L808.3 602.9M815.6 527.1L815.6 580.9M822.4 536.4L822.4 590.2M829.3 565.4L829.3 619.2M836.8 544.1L836.8 597.9M844.2 533.3L844.2 587.1M851.3 529.9L851.3 583.7M858.2 521L858.2 574.8M865 507.8L865 561.6M872 542.1L872 595.9M878.8 526.1L878.8 579.9M885.7 517.1L885.7 570.9M892.9 518.1L892.9 571.9M899.8 510.9L899.8 564.7M906.5 489.1L906.5 542.9M913.1 509.1L913.1 562.9M919.6 490.5L919.6 544.3M925.7 517L925.7 570.8M931.9 517.1L931.9 570.9M938 520.4L938 574.2M943.9 499.3L943.9 553.1M950.4 511.7L950.4 565.5M957.2 513.6L957.2 567.4M965.5 525.6L965.5 579.4M973.8 518.9L973.8 572.7M984.3 530.1L984.3 583.9M994.5 501.9L994.5 555.7M477.85 603.5L491.55 603.5M491.55 605L505.2 605M505.2 589.8L518.15 589.8M518.15 582.1L530.9 582.1M530.9 513.1L543.4 513.1M543.4 500.1L555.1 500.1M555.1 563.4L565.95 563.4M565.95 541L576.45 541M576.45 511.2L586.7 511.2M586.7 513.2L596.8 513.2M596.8 540L607.3 540M607.3 506.4L618.15 506.4M618.15 553L629.35 553M629.35 555L640.35 555M640.35 549.5L650.7 549.5M650.7 535.4L660.45 535.4M660.45 576.8L670 576.8M670 588.4L679.25 588.4M679.25 592L688.2 592M688.2 520.9L697 520.9M697 520.9L705.55 520.9M705.55 532.3L713.8 532.3M713.8 574L721.75 574M721.75 496.3L729.55 496.3M729.55 529.5L737.3 529.5M737.3 528.9L744.55 528.9M744.55 535.2L751.75 535.2M751.75 524.7L759.2 524.7M759.2 543.5L767.1 543.5M767.1 555.8L775.15 555.8M775.15 526.2L783.05 526.2M783.05 588.3L790.85 588.3M790.85 559.2L798.05 559.2M798.05 547.2L804.9 547.2M804.9 576L811.95 576M811.95 554L819 554M819 563.3L825.85 563.3M825.85 592.3L833.05 592.3M833.05 571L840.5 571M840.5 560.2L847.75 560.2M847.75 556.8L854.75 556.8M854.75 547.9L861.6 547.9M861.6 534.7L868.5 534.7M868.5 569L875.4 569M875.4 553L882.25 553M882.25 544L889.3 544M889.3 545L896.35 545M896.35 537.8L903.15 537.8M903.15 516L909.8 516M909.8 536L916.35 536M916.35 517.4L922.65 517.4M922.65 543.9L928.8 543.9M928.8 544L934.95 544M934.95 547.3L940.95 547.3M940.95 526.2L947.15 526.2M947.15 538.6L953.8 538.6M953.8 540.5L961.35 540.5M961.35 552.5L969.65 552.5M969.65 545.8L979.05 545.8M979.05 557L989.4 557M989.4 528.8L999.6 528.8"/>
<path fill="none" stroke="#ffa30a" stroke-width="2.5"  d="M367.35 526.9L367.35 580.7M393.44 516.4L393.44 570.2M417.33 558.3L417.33 612.1M439.39 506.6L439.39 560.4M459.86 545.8L459.86 599.6M478.96 461.7L478.96 515.5M496.87 541.4L496.87 595.2M513.72 548L513.72 601.8M529.63 506.7L529.63 560.5M544.7 536.1L544.7 589.9M559.02 557.4L559.02 611.2M572.65 537.1L572.65 590.9M585.67 548.9L585.67 602.7M598.11 545.5L598.11 599.3M610.04 532.5L610.04 586.3M621.49 507.5L621.49 561.3M632.5 475.2L632.5 529M643.1 501L643.1 554.8M653.33 504.4L653.33 558.2M353.72 553.8L380.99 553.8M380.99 543.3L405.88 543.3M405.88 585.2L428.78 585.2M428.78 533.5L449.99 533.5M449.99 572.7L469.73 572.7M469.73 488.6L488.19 488.6M488.19 568.3L505.54 568.3M505.54 574.9L521.89 574.9M521.89 533.6L537.36 533.6M537.36 563L552.04 563M552.04 584.3L566 584.3M566 564L579.31 564M579.31 575.8L592.02 575.8M592.02 572.4L604.2 572.4M604.2 559.4L615.88 559.4M615.88 534.4L627.1 534.4M627.1 502.1L637.9 502.1M637.9 527.9L648.31 527.9M648.31 531.3L658.35 531.3"/>
<path fill="none" stroke="#1f9ab5" stroke-width="2.5"  d="M367.35 514.3L367.35 568.1M393.44 561.9L393.44 615.7M417.33 535.4L417.33 589.2M439.39 477.4L439.39 531.2M459.86 491.8L459.86 545.6M478.96 561.5L478.96 615.3M496.87 515L496.87 568.8M513.72 541.2L513.72 595M529.63 538.3L529.63 592.1M544.7 561.5L544.7 615.3M559.02 574.5L559.02 628.3M572.65 505.6L572.65 559.4M585.67 537.1L585.67 590.9M598.11 455.2L598.11 509M610.04 505.6L610.04 559.4M621.49 538L621.49 591.8M632.5 533.5L632.5 587.3M643.1 525.6L643.1 579.4M653.33 486.8L653.33 540.6M353.72 541.2L380.99 541.2M380.99 588.8L405.88 588.8M405.88 562.3L428.78 562.3M428.78 504.3L449.99 504.3M449.99 518.7L469.73 518.7M469.73 588.4L488.19 588.4M488.19 541.9L505.54 541.9M505.54 568.1L521.89 568.1M521.89 565.2L537.36 565.2M537.36 588.4L552.04 588.4M552.04 601.4L566 601.4M566 532.5L579.31 532.5M579.31 564L592.02 564M592.02 482.1L604.2 482.1M604.2 532.5L615.88 532.5M615.88 564.9L627.1 564.9M627.1 560.4L637.9 560.4M637.9 552.5L648.31 552.5M648.31 513.7L658.35 513.7"/>
<path fill="none" stroke="#9467bd" stroke-width="2.5"  d="M367.35 508.8L367.35 562.6M393.44 556.7L393.44 610.5M417.33 531.3L417.33 585.1M439.39 545.1L439.39 598.9M459.86 508.5L459.86 562.3M478.96 490.4L478.96 544.2M496.87 490.1L496.87 543.9M513.72 551.3L513.72 605.1M529.63 510.7L529.63 564.5M544.7 539.3L544.7 593.1M559.02 506.7L559.02 560.5M572.65 529.9L572.65 583.7M585.67 569.4L585.67 623.2M598.11 517.9L598.11 571.7M610.04 555.7L610.04 609.5M621.49 534L621.49 587.8M632.5 566.5L632.5 620.3M643.1 517.2L643.1 571M653.33 567.2L653.33 621M353.72 535.7L380.99 535.7M380.99 583.6L405.88 583.6M405.88 558.2L428.78 558.2M428.78 572L449.99 572M449.99 535.4L469.73 535.4M469.73 517.3L488.19 517.3M488.19 517L505.54 517M505.54 578.2L521.89 578.2M521.89 537.6L537.36 537.6M537.36 566.2L552.04 566.2M552.04 533.6L566 533.6M566 556.8L579.31 556.8M579.31 596.3L592.02 596.3M592.02 544.8L604.2 544.8M604.2 582.6L615.88 582.6M615.88 560.9L627.1 560.9M627.1 593.4L637.9 593.4M637.9 544.1L648.31 544.1M648.31 594.1L658.35 594.1"/>
<path fill="none" stroke="#000000" stroke-width="2.5"  d="M157.4 518.1L166.2 518.1M166 543.8L174.8 543.8M173.9 566.5L182.7 566.5M181.7 580.4L190.5 580.4M189.6 607.1L198.4 607.1M197.2 581.7L206 581.7M204 556.3L212.8 556.3M211 537.2L219.8 537.2M218.1 515.8L226.9 515.8M224.9 499.8L233.7 499.8M231.2 513.1L240 513.1M237.7 528.8L246.5 528.8M244 526.8L252.8 526.8M250.1 563.4L258.9 563.4M256.1 560.8L264.9 560.8M262.1 583L270.9 583M267.9 588.8L276.7 588.8M273.6 607.1L282.4 607.1M279.1 595.3L287.9 595.3M284.3 595.9L293.1 595.9M289.8 577L298.6 577M294.9 551.1L303.7 551.1M300 520.5L308.8 520.5M305.1 533L313.9 533M310.1 513.1L318.9 513.1M315.2 500L324 500M320 522.8L328.8 522.8M324.6 569.8L333.4 569.8M329 591.6L337.8 591.6M333.7 595L342.5 595M338.4 551L347.2 551M342.7 552.5L351.5 552.5M347 545L355.8 545M351.4 534.8L360.2 534.8M355.7 542.5L364.5 542.5M359.8 539L368.6 539M363.7 550.3L372.5 550.3M368 533.5L376.8 533.5M371.9 564.6L380.7 564.6M376 576.6L384.8 576.6M379.6 569L388.4 569M383.5 555.5L392.3 555.5M387.3 542L396.1 542M391.2 563.4L400 563.4M394.9 534.1L403.7 534.1M398.6 535.5L407.4 535.5M402.2 525.4L411 525.4M405.5 549L414.3 549M409.1 548L417.9 548M413 539.9L421.8 539.9M417.4 557.5L426.2 557.5M421.7 554.6L430.5 554.6M426.3 562L435.1 562M430.8 539.3L439.6 539.3M435.2 549.3L444 549.3M439.5 542.5L448.3 542.5M443.4 584.6L452.2 584.6M447.8 578.9L456.6 578.9M451.4 599.3L460.2 599.3M455.4 556.5L464.2 556.5M459.3 536.7L468.1 536.7M463 523.2L471.8 523.2M467 502.7L475.8 502.7M470.9 502.9L479.7 502.9M474.5 520.5L483.3 520.5M478.2 556L487 556M481.8 582.8L490.6 582.8M485.4 537.5L494.2 537.5M489 540L497.8 540M492.1 590.8L500.9 590.8M495.7 564.5L504.5 564.5M499.3 614.3L508.1 614.3M502.7 563L511.5 563M506.4 564.5L515.2 564.5M509.8 548L518.6 548M513.1 554.8L521.9 554.8M515.9 571L524.7 571M519.2 607.8L528 607.8M524 570.8L532.8 570.8M528.3 536.2L537.1 536.2M531.2 524.6L540 524.6M534.8 526.1L543.6 526.1M537.4 522.5L546.2 522.5M540.2 584L549 584M543 523.9L551.8 523.9M545.6 545L554.4 545M548.2 556.5L557 556.5M551.1 535.4L559.9 535.4M554.8 608.5L563.6 608.5M557.5 499.1L566.3 499.1M560.1 520.3L568.9 520.3M563 587L571.8 587M565.8 549.1L574.6 549.1M568.4 506L577.2 506M571.1 566.5L579.9 566.5M573.5 603.7L582.3 603.7M576.2 614.3L585 614.3M578.6 556L587.4 556M581.1 533.9L589.9 533.9M583.9 614.4L592.7 614.4M586.9 556L595.7 556M590.2 556L599 556M593.5 552.43L602.3 552.43M596.8 561.64L605.6 561.64M598.7 574.2L607.5 574.2M600.1 574.2L608.9 574.2M603.4 521.6L612.2 521.6M606.7 498.9L615.5 498.9M608.1 498.9L616.9 498.9M610 552.79L618.8 552.79M613.3 539L622.1 539M616.6 538L625.4 538M619.9 586.1L628.7 586.1M621.1 541L629.9 541M623.2 538L632 538M626.5 540L635.3 540M629.8 491.2L638.6 491.2M633.1 551.72L641.9 551.72M636.4 587.7L645.2 587.7M639.7 594L648.5 594M643 540.6L651.8 540.6M646.3 568L655.1 568M649.6 566.5L658.4 566.5M651.6 568.5L660.4 568.5M652.9 568.5L661.7 568.5M656.2 517.5L665 517.5M658.1 569.5L666.9 569.5M659.5 569.5L668.3 569.5M660.9 592.2L669.7 592.2M662.8 544.34L671.6 544.34M664.5 548.5L673.3 548.5M666.1 548.5L674.9 548.5M669.4 543.5L678.2 543.5M672.7 531.2L681.5 531.2M673.9 531.2L682.7 531.2M676 585.3L684.8 585.3M679.3 548.5L688.1 548.5M682.2 549.21L691 549.21M685.1 529L693.9 529M688 546.96L696.8 546.96M690.9 549L699.7 549M693.8 560L702.6 560M696.7 560L705.5 560M698 560L706.8 560M699.6 559.81L708.4 559.81M702.5 552.17L711.3 552.17M705.4 551.15L714.2 551.15M708.3 550.45L717.1 550.45M711.2 555.88L720 555.88M713.5 538.13L722.3 538.13M715.8 508L724.6 508M718.1 534.62L726.9 534.62M720.4 556.88L729.2 556.88M722.7 566.5L731.5 566.5M725 562.86L733.8 562.86M727.3 565.1L736.1 565.1M729.6 566.5L738.4 566.5M731.9 553.74L740.7 553.74M734.2 528.3L743 528.3M736.5 531.39L745.3 531.39M738.8 567.2L747.6 567.2M741.1 544.9L749.9 544.9M743.4 568.4L752.2 568.4M161.8 513.7L161.8 522.5M170.4 539.4L170.4 548.2M178.3 562.1L178.3 570.9M186.1 576L186.1 584.8M194 602.7L194 611.5M201.6 577.3L201.6 586.1M208.4 551.9L208.4 560.7M215.4 532.8L215.4 541.6M222.5 511.4L222.5 520.2M229.3 495.4L229.3 504.2M235.6 508.7L235.6 517.5M242.1 524.4L242.1 533.2M248.4 522.4L248.4 531.2M254.5 559L254.5 567.8M260.5 556.4L260.5 565.2M266.5 578.6L266.5 587.4M272.3 584.4L272.3 593.2M278 602.7L278 611.5M283.5 590.9L283.5 599.7M288.7 591.5L288.7 600.3M294.2 572.6L294.2 581.4M299.3 546.7L299.3 555.5M304.4 516.1L304.4 524.9M309.5 528.6L309.5 537.4M314.5 508.7L314.5 517.5M319.6 495.6L319.6 504.4M324.4 518.4L324.4 527.2M329 565.4L329 574.2M333.4 587.2L333.4 596M338.1 590.6L338.1 599.4M342.8 546.6L342.8 555.4M347.1 548.1L347.1 556.9M351.4 540.6L351.4 549.4M355.8 530.4L355.8 539.2M360.1 538.1L360.1 546.9M364.2 534.6L364.2 543.4M368.1 545.9L368.1 554.7M372.4 529.1L372.4 537.9M376.3 560.2L376.3 569M380.4 572.2L380.4 581M384 564.6L384 573.4M387.9 551.1L387.9 559.9M391.7 537.6L391.7 546.4M395.6 559L395.6 567.8M399.3 529.7L399.3 538.5M403 531.1L403 539.9M406.6 521L406.6 529.8M409.9 544.6L409.9 553.4M413.5 543.6L413.5 552.4M417.4 535.5L417.4 544.3M421.8 553.1L421.8 561.9M426.1 550.2L426.1 559M430.7 557.6L430.7 566.4M435.2 534.9L435.2 543.7M439.6 544.9L439.6 553.7M443.9 538.1L443.9 546.9M447.8 580.2L447.8 589M452.2 574.5L452.2 583.3M455.8 594.9L455.8 603.7M459.8 552.1L459.8 560.9M463.7 532.3L463.7 541.1M467.4 518.8L467.4 527.6M471.4 498.3L471.4 507.1M475.3 498.5L475.3 507.3M478.9 516.1L478.9 524.9M482.6 551.6L482.6 560.4M486.2 578.4L486.2 587.2M489.8 533.1L489.8 541.9M493.4 535.6L493.4 544.4M496.5 586.4L496.5 595.2M500.1 560.1L500.1 568.9M503.7 609.9L503.7 618.7M507.1 558.6L507.1 567.4M510.8 560.1L510.8 568.9M514.2 543.6L514.2 552.4M517.5 550.4L517.5 559.2M520.3 566.6L520.3 575.4M523.6 603.4L523.6 612.2M528.4 566.4L528.4 575.2M532.7 531.8L532.7 540.6M535.6 520.2L535.6 529M539.2 521.7L539.2 530.5M541.8 518.1L541.8 526.9M544.6 579.6L544.6 588.4M547.4 519.5L547.4 528.3M550 540.6L550 549.4M552.6 552.1L552.6 560.9M555.5 531L555.5 539.8M559.2 604.1L559.2 612.9M561.9 494.7L561.9 503.5M564.5 515.9L564.5 524.7M567.4 582.6L567.4 591.4M570.2 544.7L570.2 553.5M572.8 501.6L572.8 510.4M575.5 562.1L575.5 570.9M577.9 599.3L577.9 608.1M580.6 609.9L580.6 618.7M583 551.6L583 560.4M585.5 529.5L585.5 538.3M588.3 610L588.3 618.8M591.3 551.6L591.3 560.4M594.6 551.6L594.6 560.4M597.9 548.03L597.9 556.83M601.2 557.24L601.2 566.04M603.1 569.8L603.1 578.6M604.5 569.8L604.5 578.6M607.8 517.2L607.8 526M611.1 494.5L611.1 503.3M612.5 494.5L612.5 503.3M614.4 548.39L614.4 557.19M617.7 534.6L617.7 543.4M621 533.6L621 542.4M624.3 581.7L624.3 590.5M625.5 536.6L625.5 545.4M627.6 533.6L627.6 542.4M630.9 535.6L630.9 544.4M634.2 486.8L634.2 495.6M637.5 547.32L637.5 556.12M640.8 583.3L640.8 592.1M644.1 589.6L644.1 598.4M647.4 536.2L647.4 545M650.7 563.6L650.7 572.4M654 562.1L654 570.9M656 564.1L656 572.9M657.3 564.1L657.3 572.9M660.6 513.1L660.6 521.9M662.5 565.1L662.5 573.9M663.9 565.1L663.9 573.9M665.3 587.8L665.3 596.6M667.2 539.94L667.2 548.74M668.9 544.1L668.9 552.9M670.5 544.1L670.5 552.9M673.8 539.1L673.8 547.9M677.1 526.8L677.1 535.6M678.3 526.8L678.3 535.6M680.4 580.9L680.4 589.7M683.7 544.1L683.7 552.9M686.6 544.81L686.6 553.61M689.5 524.6L689.5 533.4M692.4 542.56L692.4 551.36M695.3 544.6L695.3 553.4M698.2 555.6L698.2 564.4M701.1 555.6L701.1 564.4M702.4 555.6L702.4 564.4M704 555.41L704 564.21M706.9 547.77L706.9 556.57M709.8 546.75L709.8 555.55M712.7 546.05L712.7 554.85M715.6 551.48L715.6 560.28M717.9 533.73L717.9 542.53M720.2 503.6L720.2 512.4M722.5 530.22L722.5 539.02M724.8 552.48L724.8 561.28M727.1 562.1L727.1 570.9M729.4 558.46L729.4 567.26M731.7 560.7L731.7 569.5M734 562.1L734 570.9M736.3 549.34L736.3 558.14M738.6 523.9L738.6 532.7M740.9 526.99L740.9 535.79M743.2 562.8L743.2 571.6M745.5 540.5L745.5 549.3M747.8 564L747.8 572.8"/>
<path fill="none" stroke="#d62728" stroke-width="2.5"  d="M476.7 567.7L485.5 567.7M490.7 531L499.5 531M504.4 539.9L513.2 539.9M519.2 565.5L528 565.5M534.5 575.5L543.3 575.5M549 509.6L557.8 509.6M563 521.5L571.8 521.5M575.3 549.3L584.1 549.3M589.3 546.2L598.1 546.2M601.1 539.5L609.9 539.5M612.4 572.8L621.2 572.8M623.3 557.9L632.1 557.9M634.6 572.4L643.4 572.4M645 621.7L653.8 621.7M655.1 603.1L663.9 603.1M664.5 578.5L673.3 578.5M673.9 576.7L682.7 576.7M682.8 560.9L691.6 560.9M691.8 532.5L700.6 532.5M701.4 579.8L710.2 579.8M710.8 575.6L719.6 575.6M720.8 568.5L729.6 568.5M729.9 521.8L738.7 521.8M738.6 545.5L747.4 545.5M747.5 525.9L756.3 525.9M755.9 555.8L764.7 555.8M764.2 549.1L773 549.1M772 555.2L780.8 555.2M780.1 536.2L788.9 536.2M787.3 550.3L796.1 550.3M794.5 514.7L803.3 514.7M801.8 536.2L810.6 536.2M808.7 613.2L817.5 613.2M815.5 572.2L824.3 572.2M822.3 602.6L831.1 602.6M829.2 588.3L838 588.3M836.5 537.6L845.3 537.6M844 558L852.8 558M850.9 511.1L859.7 511.1M857.9 613.5L866.7 613.5M864.4 535.2L873.2 535.2M871.2 555.2L880 555.2M877.7 557.5L886.5 557.5M884.2 576.6L893 576.6M891.1 559.2L899.9 559.2M897.8 533L906.6 533M904.6 587.7L913.4 587.7M911.1 489.7L919.9 489.7M917.4 563.7L926.2 563.7M924.2 571.8L933 571.8M930.7 553.6L939.5 553.6M937.2 558.5L946 558.5M943.7 555.8L952.5 555.8M950.2 537.8L959 537.8M958.2 599.7L967 599.7M966.8 537.8L975.6 537.8M974.2 514.8L983 514.8M982.5 557.4L991.3 557.4M991.9 521.5L1000.7 521.5M1001 523.2L1009.8 523.2M481.1 563.3L481.1 572.1M495.1 526.6L495.1 535.4M508.8 535.5L508.8 544.3M523.6 561.1L523.6 569.9M538.9 571.1L538.9 579.9M553.4 505.2L553.4 514M567.4 517.1L567.4 525.9M579.7 544.9L579.7 553.7M593.7 541.8L593.7 550.6M605.5 535.1L605.5 543.9M616.8 568.4L616.8 577.2M627.7 553.5L627.7 562.3M639 568L639 576.8M649.4 617.3L649.4 626.1M659.5 598.7L659.5 607.5M668.9 574.1L668.9 582.9M678.3 572.3L678.3 581.1M687.2 556.5L687.2 565.3M696.2 528.1L696.2 536.9M705.8 575.4L705.8 584.2M715.2 571.2L715.2 580M725.2 564.1L725.2 572.9M734.3 517.4L734.3 526.2M743 541.1L743 549.9M751.9 521.5L751.9 530.3M760.3 551.4L760.3 560.2M768.6 544.7L768.6 553.5M776.4 550.8L776.4 559.6M784.5 531.8L784.5 540.6M791.7 545.9L791.7 554.7M798.9 510.3L798.9 519.1M806.2 531.8L806.2 540.6M813.1 608.8L813.1 617.6M819.9 567.8L819.9 576.6M826.7 598.2L826.7 607M833.6 583.9L833.6 592.7M840.9 533.2L840.9 542M848.4 553.6L848.4 562.4M855.3 506.7L855.3 515.5M862.3 609.1L862.3 617.9M868.8 530.8L868.8 539.6M875.6 550.8L875.6 559.6M882.1 553.1L882.1 561.9M888.6 572.2L888.6 581M895.5 554.8L895.5 563.6M902.2 528.6L902.2 537.4M909 583.3L909 592.1M915.5 485.3L915.5 494.1M921.8 559.3L921.8 568.1M928.6 567.4L928.6 576.2M935.1 549.2L935.1 558M941.6 554.1L941.6 562.9M948.1 551.4L948.1 560.2M954.6 533.4L954.6 542.2M962.6 595.3L962.6 604.1M971.2 533.4L971.2 542.2M978.6 510.4L978.6 519.2M986.9 553L986.9 561.8M996.3 517.1L996.3 525.9M1005.4 518.8L1005.4 527.6"/>
<path fill="none" stroke="#98df8a" stroke-width="2.5"  d="M480.3 603.5L489.1 603.5M494 605L502.8 605M507.6 589.8L516.4 589.8M519.9 582.1L528.7 582.1M533.1 513.1L541.9 513.1M544.9 500.1L553.7 500.1M556.5 563.4L565.3 563.4M566.6 541L575.4 541M577.5 511.2L586.3 511.2M587.1 513.2L595.9 513.2M597.7 540L606.5 540M608.1 506.4L616.9 506.4M619.4 553L628.2 553M630.5 555L639.3 555M641.4 549.5L650.2 549.5M651.2 535.4L660 535.4M660.9 576.8L669.7 576.8M670.3 588.4L679.1 588.4M679.4 592L688.2 592M688.2 520.9L697 520.9M697 520.9L705.8 520.9M705.3 532.3L714.1 532.3M713.5 574L722.3 574M721.2 496.3L730 496.3M729.1 529.5L737.9 529.5M736.7 528.9L745.5 528.9M743.6 535.2L752.4 535.2M751.1 524.7L759.9 524.7M758.5 543.5L767.3 543.5M766.9 555.8L775.7 555.8M774.6 526.2L783.4 526.2M782.7 588.3L791.5 588.3M790.2 559.2L799 559.2M797.1 547.2L805.9 547.2M803.9 576L812.7 576M811.2 554L820 554M818 563.3L826.8 563.3M824.9 592.3L833.7 592.3M832.4 571L841.2 571M839.8 560.2L848.6 560.2M846.9 556.8L855.7 556.8M853.8 547.9L862.6 547.9M860.6 534.7L869.4 534.7M867.6 569L876.4 569M874.4 553L883.2 553M881.3 544L890.1 544M888.5 545L897.3 545M895.4 537.8L904.2 537.8M902.1 516L910.9 516M908.7 536L917.5 536M915.2 517.4L924 517.4M921.3 543.9L930.1 543.9M927.5 544L936.3 544M933.6 547.3L942.4 547.3M939.5 526.2L948.3 526.2M946 538.6L954.8 538.6M952.8 540.5L961.6 540.5M961.1 552.5L969.9 552.5M969.4 545.8L978.2 545.8M979.9 557L988.7 557M990.1 528.8L998.9 528.8M484.7 599.1L484.7 607.9M498.4 600.6L498.4 609.4M512 585.4L512 594.2M524.3 577.7L524.3 586.5M537.5 508.7L537.5 517.5M549.3 495.7L549.3 504.5M560.9 559L560.9 567.8M571 536.6L571 545.4M581.9 506.8L581.9 515.6M591.5 508.8L591.5 517.6M602.1 535.6L602.1 544.4M612.5 502L612.5 510.8M623.8 548.6L623.8 557.4M634.9 550.6L634.9 559.4M645.8 545.1L645.8 553.9M655.6 531L655.6 539.8M665.3 572.4L665.3 581.2M674.7 584L674.7 592.8M683.8 587.6L683.8 596.4M692.6 516.5L692.6 525.3M701.4 516.5L701.4 525.3M709.7 527.9L709.7 536.7M717.9 569.6L717.9 578.4M725.6 491.9L725.6 500.7M733.5 525.1L733.5 533.9M741.1 524.5L741.1 533.3M748 530.8L748 539.6M755.5 520.3L755.5 529.1M762.9 539.1L762.9 547.9M771.3 551.4L771.3 560.2M779 521.8L779 530.6M787.1 583.9L787.1 592.7M794.6 554.8L794.6 563.6M801.5 542.8L801.5 551.6M808.3 571.6L808.3 580.4M815.6 549.6L815.6 558.4M822.4 558.9L822.4 567.7M829.3 587.9L829.3 596.7M836.8 566.6L836.8 575.4M844.2 555.8L844.2 564.6M851.3 552.4L851.3 561.2M858.2 543.5L858.2 552.3M865 530.3L865 539.1M872 564.6L872 573.4M878.8 548.6L878.8 557.4M885.7 539.6L885.7 548.4M892.9 540.6L892.9 549.4M899.8 533.4L899.8 542.2M906.5 511.6L906.5 520.4M913.1 531.6L913.1 540.4M919.6 513L919.6 521.8M925.7 539.5L925.7 548.3M931.9 539.6L931.9 548.4M938 542.9L938 551.7M943.9 521.8L943.9 530.6M950.4 534.2L950.4 543M957.2 536.1L957.2 544.9M965.5 548.1L965.5 556.9M973.8 541.4L973.8 550.2M984.3 552.6L984.3 561.4M994.5 524.4L994.5 533.2"/>
<path fill="none" stroke="#ffa30a" stroke-width="2.5"  d="M362.95 553.8L371.75 553.8M389.04 543.3L397.84 543.3M412.93 585.2L421.73 585.2M434.99 533.5L443.79 533.5M455.46 572.7L464.26 572.7M474.56 488.6L483.36 488.6M492.47 568.3L501.27 568.3M509.32 574.9L518.12 574.9M525.23 533.6L534.03 533.6M540.3 563L549.1 563M554.62 584.3L563.42 584.3M568.25 564L577.05 564M581.27 575.8L590.07 575.8M593.71 572.4L602.51 572.4M605.64 559.4L614.44 559.4M617.09 534.4L625.89 534.4M628.1 502.1L636.9 502.1M638.7 527.9L647.5 527.9M648.93 531.3L657.73 531.3M367.35 549.4L367.35 558.2M393.44 538.9L393.44 547.7M417.33 580.8L417.33 589.6M439.39 529.1L439.39 537.9M459.86 568.3L459.86 577.1M478.96 484.2L478.96 493M496.87 563.9L496.87 572.7M513.72 570.5L513.72 579.3M529.63 529.2L529.63 538M544.7 558.6L544.7 567.4M559.02 579.9L559.02 588.7M572.65 559.6L572.65 568.4M585.67 571.4L585.67 580.2M598.11 568L598.11 576.8M610.04 555L610.04 563.8M621.49 530L621.49 538.8M632.5 497.7L632.5 506.5M643.1 523.5L643.1 532.3M653.33 526.9L653.33 535.7"/>
<path fill="none" stroke="#1f9ab5" stroke-width="2.5"  d="M362.95 541.2L371.75 541.2M389.04 588.8L397.84 588.8M412.93 562.3L421.73 562.3M434.99 504.3L443.79 504.3M455.46 518.7L464.26 518.7M474.56 588.4L483.36 588.4M492.47 541.9L501.27 541.9M509.32 568.1L518.12 568.1M525.23 565.2L534.03 565.2M540.3 588.4L549.1 588.4M554.62 601.4L563.42 601.4M568.25 532.5L577.05 532.5M581.27 564L590.07 564M593.71 482.1L602.51 482.1M605.64 532.5L614.44 532.5M617.09 564.9L625.89 564.9M628.1 560.4L636.9 560.4M638.7 552.5L647.5 552.5M648.93 513.7L657.73 513.7M367.35 536.8L367.35 545.6M393.44 584.4L393.44 593.2M417.33 557.9L417.33 566.7M439.39 499.9L439.39 508.7M459.86 514.3L459.86 523.1M478.96 584L478.96 592.8M496.87 537.5L496.87 546.3M513.72 563.7L513.72 572.5M529.63 560.8L529.63 569.6M544.7 584L544.7 592.8M559.02 597L559.02 605.8M572.65 528.1L572.65 536.9M585.67 559.6L585.67 568.4M598.11 477.7L598.11 486.5M610.04 528.1L610.04 536.9M621.49 560.5L621.49 569.3M632.5 556L632.5 564.8M643.1 548.1L643.1 556.9M653.33 509.3L653.33 518.1"/>
<path fill="none" stroke="#9467bd" stroke-width="2.5"  d="M362.95 535.7L371.75 535.7M389.04 583.6L397.84 583.6M412.93 558.2L421.73 558.2M434.99 572L443.79 572M455.46 535.4L464.26 535.4M474.56 517.3L483.36 517.3M492.47 517L501.27 517M509.32 578.2L518.12 578.2M525.23 537.6L534.03 537.6M540.3 566.2L549.1 566.2M554.62 533.6L563.42 533.6M568.25 556.8L577.05 556.8M581.27 596.3L590.07 596.3M593.71 544.8L602.51 544.8M605.64 582.6L614.44 582.6M617.09 560.9L625.89 560.9M628.1 593.4L636.9 593.4M638.7 544.1L647.5 544.1M648.93 594.1L657.73 594.1M367.35 531.3L367.35 540.1M393.44 579.2L393.44 588M417.33 553.8L417.33 562.6M439.39 567.6L439.39 576.4M459.86 531L459.86 539.8M478.96 512.9L478.96 521.7M496.87 512.6L496.87 521.4M513.72 573.8L513.72 582.6M529.63 533.2L529.63 542M544.7 561.8L544.7 570.6M559.02 529.2L559.02 538M572.65 552.4L572.65 561.2M585.67 591.9L585.67 600.7M598.11 540.4L598.11 549.2M610.04 578.2L610.04 587M621.49 556.5L621.49 565.3M632.5 589L632.5 597.8M643.1 539.7L643.1 548.5M653.33 589.7L653.33 598.5"/>
<path stroke="#00ff00" stroke-width="1.15" d="M155.4 553.6H1013"/>
</g>
<g id="axes" fill="none" stroke="#000">
<rect x="155.4" y="0.4" width="857.6" height="444.9" stroke-width="1.3"/>
<rect x="155.4" y="445.3" width="857.6" height="213" stroke-width="1.3"/>
<path fill="none" stroke="#000" stroke-width="1.3"  d="M148.4 385.5L155.4 385.5M1013 385.5L1020 385.5M148.4 318.8L155.4 318.8M1013 318.8L1020 318.8M148.4 252.1L155.4 252.1M1013 252.1L1020 252.1M148.4 185.4L155.4 185.4M1013 185.4L1020 185.4M148.4 118.7L155.4 118.7M1013 118.7L1020 118.7M148.4 52L155.4 52M1013 52L1020 52M148.4 620.85L155.4 620.85M1013 620.85L1020 620.85M148.4 553.6L155.4 553.6M1013 553.6L1020 553.6M148.4 486.35L155.4 486.35M1013 486.35L1020 486.35M155.4 445.3L155.4 438.3M814.2 445.3L814.2 438.3M155.4 658.3L155.4 651.3M814.2 658.3L814.2 651.3"/>
<path fill="none" stroke="#000" stroke-width="1.1"  d="M151.3 432.12L155.4 432.12M1013 432.12L1017.1 432.12M151.3 420.38L155.4 420.38M1013 420.38L1017.1 420.38M151.3 412.04L155.4 412.04M1013 412.04L1017.1 412.04M151.3 405.58L155.4 405.58M1013 405.58L1017.1 405.58M151.3 400.3L155.4 400.3M1013 400.3L1017.1 400.3M151.3 395.83L155.4 395.83M1013 395.83L1017.1 395.83M151.3 391.96L155.4 391.96M1013 391.96L1017.1 391.96M151.3 388.55L155.4 388.55M1013 388.55L1017.1 388.55M151.3 365.42L155.4 365.42M1013 365.42L1017.1 365.42M151.3 353.68L155.4 353.68M1013 353.68L1017.1 353.68M151.3 345.34L155.4 345.34M1013 345.34L1017.1 345.34M151.3 338.88L155.4 338.88M1013 338.88L1017.1 338.88M151.3 333.6L155.4 333.6M1013 333.6L1017.1 333.6M151.3 329.13L155.4 329.13M1013 329.13L1017.1 329.13M151.3 325.26L155.4 325.26M1013 325.26L1017.1 325.26M151.3 321.85L155.4 321.85M1013 321.85L1017.1 321.85M151.3 298.72L155.4 298.72M1013 298.72L1017.1 298.72M151.3 286.98L155.4 286.98M1013 286.98L1017.1 286.98M151.3 278.64L155.4 278.64M1013 278.64L1017.1 278.64M151.3 272.18L155.4 272.18M1013 272.18L1017.1 272.18M151.3 266.9L155.4 266.9M1013 266.9L1017.1 266.9M151.3 262.43L155.4 262.43M1013 262.43L1017.1 262.43M151.3 258.56L155.4 258.56M1013 258.56L1017.1 258.56M151.3 255.15L155.4 255.15M1013 255.15L1017.1 255.15M151.3 232.02L155.4 232.02M1013 232.02L1017.1 232.02M151.3 220.28L155.4 220.28M1013 220.28L1017.1 220.28M151.3 211.94L155.4 211.94M1013 211.94L1017.1 211.94M151.3 205.48L155.4 205.48M1013 205.48L1017.1 205.48M151.3 200.2L155.4 200.2M1013 200.2L1017.1 200.2M151.3 195.73L155.4 195.73M1013 195.73L1017.1 195.73M151.3 191.86L155.4 191.86M1013 191.86L1017.1 191.86M151.3 188.45L155.4 188.45M1013 188.45L1017.1 188.45M151.3 165.32L155.4 165.32M1013 165.32L1017.1 165.32M151.3 153.58L155.4 153.58M1013 153.58L1017.1 153.58M151.3 145.24L155.4 145.24M1013 145.24L1017.1 145.24M151.3 138.78L155.4 138.78M1013 138.78L1017.1 138.78M151.3 133.5L155.4 133.5M1013 133.5L1017.1 133.5M151.3 129.03L155.4 129.03M1013 129.03L1017.1 129.03M151.3 125.16L155.4 125.16M1013 125.16L1017.1 125.16M151.3 121.75L155.4 121.75M1013 121.75L1017.1 121.75M151.3 98.62L155.4 98.62M1013 98.62L1017.1 98.62M151.3 86.88L155.4 86.88M1013 86.88L1017.1 86.88M151.3 78.54L155.4 78.54M1013 78.54L1017.1 78.54M151.3 72.08L155.4 72.08M1013 72.08L1017.1 72.08M151.3 66.8L155.4 66.8M1013 66.8L1017.1 66.8M151.3 62.33L155.4 62.33M1013 62.33L1017.1 62.33M151.3 58.46L155.4 58.46M1013 58.46L1017.1 58.46M151.3 55.05L155.4 55.05M1013 55.05L1017.1 55.05M151.3 31.92L155.4 31.92M1013 31.92L1017.1 31.92M151.3 20.18L155.4 20.18M1013 20.18L1017.1 20.18M151.3 11.84L155.4 11.84M1013 11.84L1017.1 11.84M151.3 5.38L155.4 5.38M1013 5.38L1017.1 5.38M353.72 445.3L353.72 441.2M469.73 445.3L469.73 441.2M552.04 445.3L552.04 441.2M615.88 445.3L615.88 441.2M668.05 445.3L668.05 441.2M712.15 445.3L712.15 441.2M750.36 445.3L750.36 441.2M784.05 445.3L784.05 441.2M353.72 658.3L353.72 654.2M469.73 658.3L469.73 654.2M552.04 658.3L552.04 654.2M615.88 658.3L615.88 654.2M668.05 658.3L668.05 654.2M712.15 658.3L712.15 654.2M750.36 658.3L750.36 654.2M784.05 658.3L784.05 654.2"/>
</g>
<g id="labels" font-family="DejaVu Sans, Liberation Sans, sans-serif" font-size="29.17px" fill="#000">
<text x="143.4" y="62.7" text-anchor="end">1000</text>
<text x="143.4" y="129.4" text-anchor="end">100</text>
<text x="143.4" y="196.1" text-anchor="end">10</text>
<text x="143.4" y="262.8" text-anchor="end">1</text>
<text x="143.4" y="329.5" text-anchor="end">0.1</text>
<text x="143.4" y="396.2" text-anchor="end">0.01</text>
<text x="143.4" y="497.05" text-anchor="end">2.5</text>
<text x="143.4" y="564.3" text-anchor="end">0.0</text>
<text x="143.4" y="631.55" text-anchor="end">−2.5</text>
<text x="155.4" y="686.2" text-anchor="middle">1</text>
<text x="814.2" y="686.2" text-anchor="middle">10</text>
<text x="584.3" y="720" text-anchor="middle">Energy [keV]</text>
<text transform="translate(21.7 223.8) rotate(-90)" text-anchor="middle" letter-spacing="-0.22">Count rate</text>
<text transform="translate(57.2 223) rotate(-90)" text-anchor="middle">[counts s<tspan font-size="20.42px" dy="-10.6">−1</tspan><tspan dy="10.6" dx="1.2"> keV</tspan><tspan font-size="20.42px" dy="-10.6">−1</tspan><tspan dy="10.6" dx="1.2">]</tspan></text>
<text transform="translate(58.7 552.4) rotate(-90)" text-anchor="middle">Δ<tspan font-style="italic">χ</tspan></text>
</g>
<g id="legend" font-family="DejaVu Sans, Liberation Sans, sans-serif" font-size="22.7px">
<rect x="576.8" y="11.3" width="424.5" height="107.1" rx="4.2" fill="#fff" fill-opacity="0.8" stroke="#c8c8c8" stroke-opacity="0.85" stroke-width="1.6"/>
<circle cx="607.9" cy="30" r="5.15" fill="#000000"/>
<text x="650.0" y="38.2">NICER</text>
<circle cx="607.9" cy="63.6" r="5.15" fill="#d62728"/>
<text x="650.0" y="71.8">NuSTAR A</text>
<circle cx="607.9" cy="97" r="5.15" fill="#98df8a"/>
<text x="650.0" y="105.2">NuSTAR B</text>
<circle cx="829.9" cy="30" r="5.15" fill="#ffa30a"/>
<text x="871.3" y="38.2">IXPE GPD1</text>
<circle cx="829.9" cy="63.6" r="5.15" fill="#1f9ab5"/>
<text x="871.3" y="71.8">IXPE GPD2</text>
<circle cx="829.9" cy="97" r="5.15" fill="#9467bd"/>
<text x="871.3" y="105.2">IXPE GPD3</text>
</g>
</svg>
</body></html>
